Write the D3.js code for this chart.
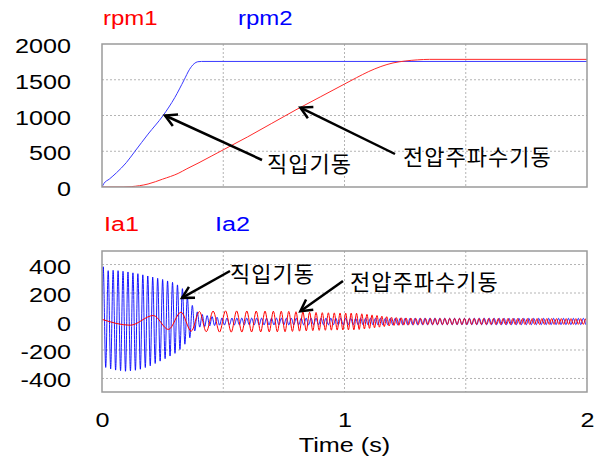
<!DOCTYPE html>
<html><head><meta charset="utf-8">
<script src="https://cdn.jsdelivr.net/npm/d3@7"></script>
<style>
body{margin:0;background:#fff;}
svg{display:block;}
text{font-family:"Liberation Sans",Arial,sans-serif;}
.kr{font-family:"Noto Sans CJK KR","Noto Sans",sans-serif;}
</style></head><body><svg id="c" width="602" height="461"></svg>
<script>
// ---------------- data ----------------
const timeTicks = [0, 1, 2];
const timeGrid = [0.5, 1, 1.5];
const rpmTicks = [0, 500, 1000, 1500, 2000];
const iaTicks = [-400, -200, 0, 200, 400];
const iaGrid = [-400, -200, 200, 400];

// rpm1 : V/f start (red)
const rpm1Time   = [0, 0.087, 0.12, 0.19, 0.25, 0.314, 0.35, 0.4, 0.45, 0.5, 0.6, 0.7, 0.8, 0.9, 1.0, 1.05, 1.1, 1.15, 1.2, 1.25, 1.3, 1.35, 2.0];
const rpm1Values = [0, 0, 5, 42, 110, 190, 255, 340, 430, 520, 700, 890, 1080, 1260, 1440, 1530, 1615, 1685, 1735, 1762, 1778, 1785, 1785];
// rpm2 : direct-on-line start (blue)
const rpm2Time   = [0, 0.008, 0.03, 0.06, 0.1, 0.136, 0.19, 0.252, 0.3, 0.339, 0.36, 0.38, 0.395, 0.41, 2.0];
const rpm2Values = [0, 50, 110, 200, 340, 500, 740, 1000, 1250, 1500, 1640, 1725, 1752, 1756, 1756];

// Ia1 (red): early extremes, then cycle frequency and amplitude envelope
const ia1EarlyTime   = [0, 0.116, 0.212, 0.274, 0.326, 0.368, 0.402, 0.43];
const ia1EarlyValues = [15, -26, 42, -56, 66, -68, 70, -72];
const ia1FreqTime  = [0.43, 0.6, 0.9, 1.15, 2.0];
const ia1FreqHz    = [17, 25, 39, 50, 50];
const ia1AmpTime   = [0.43, 0.5, 0.75, 0.9, 1.05, 1.12, 1.2, 1.3, 2.0];
const ia1AmpValues = [72, 75, 72, 62, 58, 45, 28, 22, 20];

// Ia2 (blue): cycle frequency, upper / lower envelope
const ia2FreqTime = [0, 2.0];
const ia2FreqHz   = [49, 49];
const ia2EnvTime  = [0, 0.01, 0.05, 0.1, 0.15, 0.2, 0.25, 0.3, 0.33, 0.36, 0.38, 0.4, 0.45, 0.5, 2.0];
const ia2Upper    = [415, 355, 360, 350, 335, 315, 295, 270, 235, 150, 90, 55, 35, 24, 22];
const ia2Lower    = [-300, -320, -340, -350, -340, -310, -270, -225, -185, -120, -70, -40, -30, -24, -22];

// ---------------- layout ----------------
const svg = d3.select("#c");
const X0 = 102, X1 = 587;
const x = d3.scaleLinear().domain([0, 2]).range([X0, X1]);
const yR = d3.scaleLinear().domain([0, 2000]).range([187, 44]);
const yI = d3.scaleLinear().domain([-495, 495]).range([392, 251]);
const SX = 1.2;
const red = "#ff0000", blue = "#0000ff";
const redLine = "#ff2a2a", blueLine = "#3a3aff";
const fmt = d => String(d);

function panel(y, yTicks, yGrid, id) {
  const [yb, yt] = y.range();
  svg.append("clipPath").attr("id", id).append("rect")
    .attr("x", X0).attr("y", yt).attr("width", X1 - X0).attr("height", yb - yt);
  const g = svg.append("g");
  g.selectAll(".hg").data(yGrid).join("line")
    .attr("x1", X0).attr("x2", X1).attr("y1", d => y(d)).attr("y2", d => y(d))
    .attr("stroke", "#b4b4b4").attr("stroke-dasharray", "2,2");
  g.selectAll(".vg").data(timeGrid).join("line")
    .attr("y1", yt).attr("y2", yb).attr("x1", d => x(d)).attr("x2", d => x(d))
    .attr("stroke", "#b4b4b4").attr("stroke-dasharray", "2,2");
  const ax = svg.append("g").attr("transform", `translate(${X0},0)`)
    .call(d3.axisLeft(y).tickValues(yTicks).tickSize(0).tickFormat(fmt));
  ax.select(".domain").remove();
  ax.selectAll("text").attr("x", null).attr("dy", null)
    .attr("transform", `translate(-31,8.5) scale(${SX},1)`)
    .attr("font-size", 21).attr("font-family", "Liberation Sans, Arial, sans-serif")
    .attr("fill", "#000").attr("text-anchor", "end");
  return g;
}

panel(yR, rpmTicks, [500, 1000, 1500], "clipTop");
panel(yI, iaTicks, iaGrid, "clipBot");

// ---------------- rpm lines ----------------
const zip = (a, b) => a.map((d, i) => [d, b[i]]);
const lineR = d3.line().x(d => x(d[0])).y(d => yR(d[1])).curve(d3.curveMonotoneX);
const topMarks = svg.append("g").attr("clip-path", "url(#clipTop)");
topMarks.append("path").datum(zip(rpm2Time, rpm2Values)).attr("d", lineR)
  .attr("fill", "none").attr("stroke", blueLine).attr("stroke-width", 1);
topMarks.append("path").datum(zip(rpm1Time, rpm1Values)).attr("d", lineR)
  .attr("fill", "none").attr("stroke", redLine).attr("stroke-width", 1);

// ---------------- current lines ----------------
function peaks(t0, t1, phase0, freqS, upS, loS) {
  const pts = [];
  let ph = phase0, next = Math.floor(ph * 2) / 2 + 0.5;
  const dt = 0.00005;
  for (let t = t0; t <= t1; t += dt) {
    ph += freqS(t) * dt;
    if (ph >= next) {
      const isMax = Math.round(next * 2) % 2 === 0;
      pts.push([t, isMax ? upS(t) : loS(t)]);
      next += 0.5;
    }
  }
  return pts;
}
const f1 = d3.scaleLinear().domain(ia1FreqTime).range(ia1FreqHz).clamp(true);
const a1 = d3.scaleLinear().domain(ia1AmpTime).range(ia1AmpValues).clamp(true);
const ia1Pts = zip(ia1EarlyTime, ia1EarlyValues)
  .concat(peaks(0.43, 2.0, 0.5, f1, a1, t => -a1(t)));

const f2 = d3.scaleLinear().domain(ia2FreqTime).range(ia2FreqHz).clamp(true);
const u2 = d3.scaleLinear().domain(ia2EnvTime).range(ia2Upper).clamp(true);
const l2 = d3.scaleLinear().domain(ia2EnvTime).range(ia2Lower).clamp(true);
const ia2Pts = [[0, 0]].concat(peaks(0, 2.0, -0.25, f2, u2, l2));

const lineI = d3.line().x(d => x(d[0])).y(d => yI(d[1])).curve(d3.curveMonotoneX);
const botMarks = svg.append("g").attr("clip-path", "url(#clipBot)");
botMarks.append("path").datum(ia2Pts).attr("d", lineI)
  .attr("fill", "none").attr("stroke", blue).attr("stroke-width", 0.9);
botMarks.append("path").datum(ia1Pts).attr("d", lineI)
  .attr("fill", "none").attr("stroke", red).attr("stroke-width", 1);

// ---------------- frames ----------------
[yR, yI].forEach(y => {
  const [yb, yt] = y.range();
  svg.append("rect").attr("x", X0).attr("y", yt).attr("width", X1 - X0).attr("height", yb - yt)
    .attr("fill", "none").attr("stroke", "#9a9a9a").attr("stroke-width", 1.5);
});

// ---------------- x axis labels ----------------
const xa = svg.append("g").attr("transform", "translate(0,392)")
  .call(d3.axisBottom(x).tickValues(timeTicks).tickSize(0).tickFormat(fmt));
xa.select(".domain").remove();
xa.selectAll("text").attr("y", null).attr("dy", null)
  .attr("transform", `translate(0,35) scale(${SX},1)`)
  .attr("font-size", 21).attr("font-family", "Liberation Sans, Arial, sans-serif").attr("fill", "#000");

function label(txt, px, py, color, size, anchor) {
  svg.append("text").attr("transform", `translate(${px},${py}) scale(${SX},1)`)
    .attr("font-size", size).style("fill", color).attr("text-anchor", anchor || "start").text(txt);
}
label("Time (s)", x(1), 452, "#000", 21, "middle");
label("rpm1", 103, 25, red, 20);
label("rpm2", 238, 25, blue, 20);
label("Ia1", 104, 231, red, 21);
label("Ia2", 215, 231, blue, 21);

// ---------------- annotations ----------------
function arrow(x1, y1, x2, y2) {
  const g = svg.append("g").attr("stroke", "#000").attr("stroke-width", 2.5)
    .attr("fill", "none").attr("stroke-linecap", "butt");
  g.append("line").attr("x1", x1).attr("y1", y1).attr("x2", x2).attr("y2", y2);
  const ang = Math.atan2(y1 - y2, x1 - x2), L = 13, s = 0.5;
  g.append("path").attr("d",
    `M${x2 + L * Math.cos(ang + s)},${y2 + L * Math.sin(ang + s)}L${x2},${y2}L${x2 + L * Math.cos(ang - s)},${y2 + L * Math.sin(ang - s)}`)
    .attr("stroke-linejoin", "miter");
}
function krText(txt, px, py) {
  svg.append("text").attr("class", "kr").attr("x", px).attr("y", py)
    .attr("font-size", 22).attr("letter-spacing", 1).style("fill", "#000").text(txt);
}
arrow(262, 160, x(0.26), yR(1000));
krText("직입기동", 267, 172);
arrow(395, 154, x(0.818), yR(1111));
krText("전압주파수기동", 403, 165);
arrow(230, 271, x(0.33), yI(166));
krText("직입기동", 230, 282);
arrow(343, 281, x(0.818), yI(72));
krText("전압주파수기동", 350, 290);
</script></body></html>
